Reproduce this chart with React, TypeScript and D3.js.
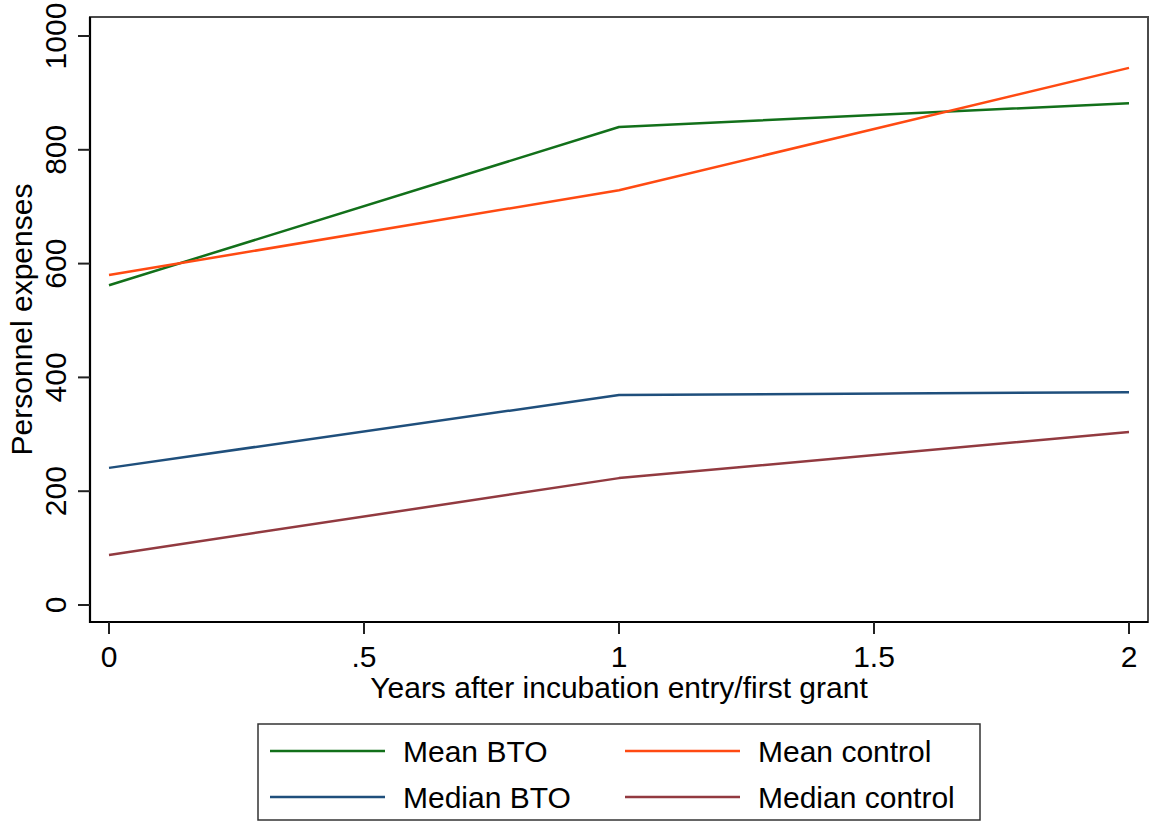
import * as d3 from 'd3'

const years = [0, 1, 2]
const meanBTO = [562, 840, 882]
const meanControl = [580, 729, 944]
const medianBTO = [241, 369, 374]
const medianControl = [88, 223, 304]

const xTicks = [0, 0.5, 1, 1.5, 2]
const xTickLabels = ['0', '.5', '1', '1.5', '2']
const yTicks = [0, 200, 400, 600, 800, 1000]

const series = [
	{ name: 'Mean BTO', values: meanBTO, color: '#12701a' },
	{ name: 'Mean control', values: meanControl, color: '#ff4a12' },
	{ name: 'Median BTO', values: medianBTO, color: '#1f4f7c' },
	{ name: 'Median control', values: medianControl, color: '#923a40' },
]

const W = 1152
const H = 823
const frame = { left: 90, right: 1148, top: 17, bottom: 622 }
const font = '"Liberation Sans", Arial, Helvetica, sans-serif'

export default function App() {
	const x = d3.scaleLinear().domain([0, 2]).range([109, 1129])
	const y = d3.scaleLinear().domain([0, 1000]).range([605, 36])

	const line = d3
		.line<number>()
		.x((_, i) => x(years[i]))
		.y((d) => y(d))

	// legend layout: 2 columns, 2 rows
	const legendCols = [270, 625]
	const legendRows = [751, 797]

	return (
		<svg
			width={W}
			height={H}
			style={{ position: 'absolute', left: 0, top: 0, background: '#fff' }}
			fontFamily={font}
		>
			<rect x={0} y={0} width={W} height={H} fill='#fff' />

			{/* plot frame */}
			<rect
				x={frame.left}
				y={frame.top}
				width={frame.right - frame.left}
				height={frame.bottom - frame.top}
				fill='none'
				stroke='#4a4a4a'
				strokeWidth={2}
			/>
			<line x1={frame.left} x2={frame.left} y1={frame.top} y2={frame.bottom + 1} stroke='#000' strokeWidth={2.2} />
			<line x1={frame.left - 1} x2={frame.right} y1={frame.bottom} y2={frame.bottom} stroke='#000' strokeWidth={2.2} />

			{/* y axis */}
			{yTicks.map((t) => (
				<g key={t}>
					<line x1={frame.left - 12} x2={frame.left} y1={y(t)} y2={y(t)} stroke='#222' strokeWidth={2} />
					<text
						transform={`translate(66,${y(t)}) rotate(-90)`}
						textAnchor='middle'
						fontSize={30}
						fill='#000'
					>
						{t}
					</text>
				</g>
			))}
			<text
				transform={`translate(32,${(frame.top + frame.bottom) / 2}) rotate(-90)`}
				textAnchor='middle'
				fontSize={30}
				fill='#000'
			>
				Personnel expenses
			</text>

			{/* x axis */}
			{xTicks.map((t, i) => (
				<g key={t}>
					<line x1={x(t)} x2={x(t)} y1={frame.bottom} y2={frame.bottom + 12} stroke='#222' strokeWidth={2} />
					<text x={x(t)} y={667} textAnchor='middle' fontSize={30} fill='#000'>
						{xTickLabels[i]}
					</text>
				</g>
			))}
			<text x={(frame.left + frame.right) / 2} y={698} textAnchor='middle' fontSize={30} fill='#000'>
				Years after incubation entry/first grant
			</text>

			{/* series */}
			{series.map((s) => (
				<path key={s.name} d={line(s.values) ?? ''} fill='none' stroke={s.color} strokeWidth={2.5} strokeLinejoin='round' />
			))}

			{/* legend */}
			<rect x={258} y={724} width={722} height={96} fill='#fff' stroke='#333' strokeWidth={1.5} />
			{series.map((s, i) => {
				const cx = legendCols[i % 2]
				const cy = legendRows[Math.floor(i / 2)]
				return (
					<g key={s.name}>
						<line x1={cx} x2={cx + 115} y1={cy} y2={cy} stroke={s.color} strokeWidth={2.5} />
						<text x={cx + 133} y={cy + 11} fontSize={30} fill='#000'>
							{s.name}
						</text>
					</g>
				)
			})}
		</svg>
	)
}
